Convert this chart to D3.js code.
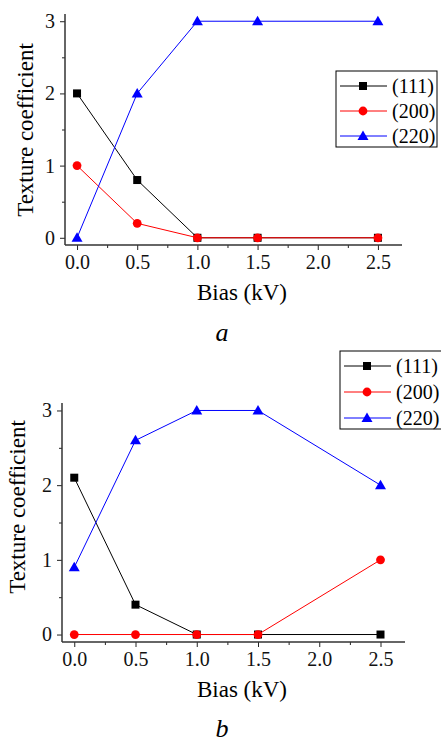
<!DOCTYPE html>
<html>
<head>
<meta charset="UTF-8">
<script src="https://d3js.org/d3.v7.min.js"></script>
<style>
  body { margin: 0; background: #fff; }
  svg { display: block; }
  svg text { font-family: "Liberation Serif", "Times New Roman", Times, serif !important; }
</style>
</head>
<body>
<div id="chart"></div>
<script>
// bias values shared by both panels
var bias = [0.0, 0.5, 1.0, 1.5, 2.5];
var seriesNames = ["(111)", "(200)", "(220)"];
var seriesColors = ["#000000", "#ff0000", "#0000ff"];
var seriesShapes = ["square", "circle", "triangle"];

// panel a
var a111 = [2.0, 0.8, 0, 0, 0];
var a200 = [1.0, 0.2, 0, 0, 0];
var a220 = [0, 2.0, 3.0, 3.0, 3.0];

// panel b
var b111 = [2.1, 0.4, 0, 0, 0];
var b200 = [0, 0, 0, 0, 1.0];
var b220 = [0.9, 2.6, 3.0, 3.0, 2.0];

var xTicks = [0.0, 0.5, 1.0, 1.5, 2.0, 2.5];
var xMinor = [0.25, 0.75, 1.25, 1.75, 2.25];
var yTicks = [0, 1, 2, 3];
var yMinor = [0.5, 1.5, 2.5];

var svg = d3.select("#chart").append("svg")
    .attr("width", 441)
    .attr("height", 739);

// draws one panel
function panel(cfg) {
    var x = d3.scaleLinear().domain([-0.1, 2.7]).range([cfg.left, cfg.right]);
    var y = d3.scaleLinear().domain([-0.1, 3.1]).range([cfg.bottom, cfg.top]);
    var g = svg.append("g");

    // axes, major + minor ticks
    var xAxis = g.append("g").attr("transform", "translate(0," + cfg.bottom + ")")
        .call(d3.axisBottom(x).tickValues(xTicks).tickFormat(d3.format(".1f")).tickSize(5).tickPadding(5));
    g.append("g").attr("transform", "translate(0," + cfg.bottom + ")")
        .call(d3.axisBottom(x).tickValues(xMinor).tickFormat("").tickSize(3));
    var yAxis = g.append("g").attr("transform", "translate(" + cfg.left + ",0)")
        .call(d3.axisLeft(y).tickValues(yTicks).tickFormat(d3.format("d")).tickSize(5).tickPadding(5));
    g.append("g").attr("transform", "translate(" + cfg.left + ",0)")
        .call(d3.axisLeft(y).tickValues(yMinor).tickFormat("").tickSize(3));

    g.selectAll(".domain").remove();
    g.selectAll(".tick line").attr("stroke", "#222");
    g.append("line").attr("x1", cfg.left).attr("x2", cfg.right)
        .attr("y1", cfg.bottom).attr("y2", cfg.bottom).attr("stroke", "#333").attr("stroke-width", 1.5);
    g.append("line").attr("x1", cfg.left).attr("x2", cfg.left)
        .attr("y1", cfg.top).attr("y2", cfg.bottom).attr("stroke", "#333").attr("stroke-width", 1.5);

    xAxis.selectAll("text").attr("font-size", 20).attr("fill", "#111");
    yAxis.selectAll("text").attr("font-size", 20).attr("fill", "#111");

    // axis titles
    g.append("text").attr("x", cfg.titleX).attr("y", cfg.bottom + 55)
        .attr("text-anchor", "middle").attr("font-size", 23).text("Bias (kV)");
    g.append("text")
        .attr("transform", "translate(" + cfg.ylabX + "," + cfg.ylabY + ") rotate(-90)")
        .attr("text-anchor", "middle").attr("font-size", 23).text("Texture coefficient");
    g.append("text").attr("x", cfg.capX).attr("y", cfg.capY)
        .attr("text-anchor", "middle").attr("font-size", 26).attr("font-style", "italic").text(cfg.caption);

    // series
    cfg.series.forEach(function (vals, i) {
        var pts = bias.map(function (b, j) { return [x(b), y(vals[j])]; });
        g.append("path").attr("d", d3.line()(pts)).attr("fill", "none")
            .attr("stroke", seriesColors[i]).attr("stroke-width", 1);
        pts.forEach(function (p) { marker(g, p[0], p[1], i); });
    });

    // legend
    var lg = g.append("g");
    lg.append("rect").attr("x", cfg.legX).attr("y", cfg.legY).attr("width", cfg.legW).attr("height", cfg.legH)
        .attr("fill", "#fff").attr("stroke", "#000").attr("stroke-width", 1);
    seriesNames.forEach(function (name, i) {
        var ly = cfg.legY + 15 + i * cfg.legStep;
        lg.append("line").attr("x1", cfg.legX + 4).attr("x2", cfg.legX + 51)
            .attr("y1", ly).attr("y2", ly).attr("stroke", seriesColors[i]).attr("stroke-width", 1);
        marker(lg, cfg.legX + 27, ly, i);
        lg.append("text").attr("x", cfg.legX + 56).attr("y", ly + 7)
            .attr("font-size", 20).text(name);
    });
}

function marker(g, cx, cy, i) {
    var c = seriesColors[i];
    if (seriesShapes[i] === "square") {
        g.append("rect").attr("x", cx - 4).attr("y", cy - 4).attr("width", 8).attr("height", 8).attr("fill", c);
    } else if (seriesShapes[i] === "circle") {
        g.append("circle").attr("cx", cx).attr("cy", cy).attr("r", 4.4).attr("fill", c);
    } else {
        g.append("path").attr("d", "M" + cx + "," + (cy - 5.5) + "L" + (cx + 5.5) + "," + (cy + 4) + "L" + (cx - 5.5) + "," + (cy + 4) + "Z")
            .attr("fill", c);
    }
}

panel({
    left: 65, right: 402, top: 14, bottom: 245,
    series: [a111, a200, a220],
    titleX: 242, ylabX: 33, ylabY: 130, capX: 222, capY: 341, caption: "a",
    legX: 336, legY: 71, legW: 101, legH: 76, legStep: 25
});

panel({
    left: 62, right: 405, top: 403, bottom: 642,
    series: [b111, b200, b220],
    titleX: 242, ylabX: 25, ylabY: 507, capX: 222, capY: 737, caption: "b",
    legX: 340, legY: 351, legW: 110, legH: 78, legStep: 26
});
</script>
</body>
</html>
